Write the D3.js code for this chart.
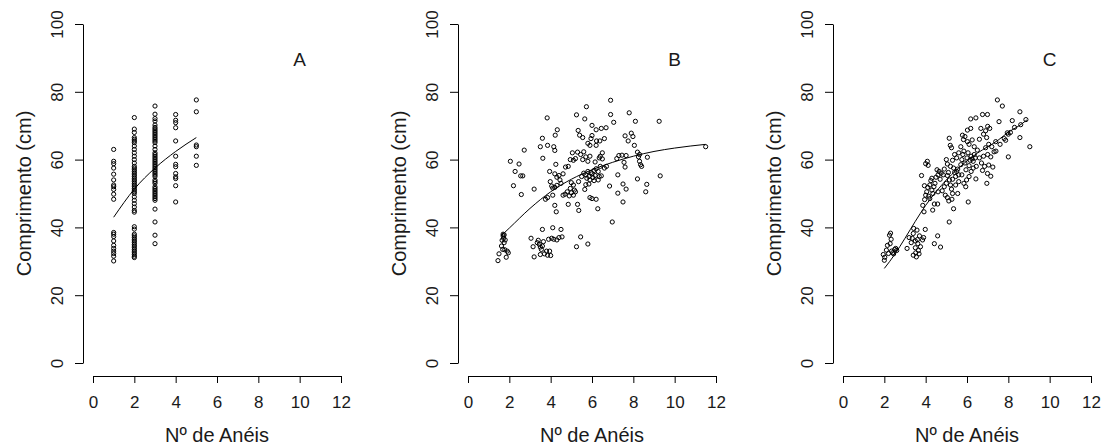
<!DOCTYPE html>
<html>
<head>
<meta charset="utf-8">
<script src="https://cdn.jsdelivr.net/npm/d3@7"></script>
<style>
  body { margin: 0; background: #fff; }
  text { font-family: "Liberation Sans", Arial, sans-serif; fill: #1a1a1a; }
</style>
</head>
<body>
<svg id="chart" width="1102" height="448"></svg>
<script>
// tick values and labels
const ringTicks = [0, 2, 4, 6, 8, 10, 12];
const lengthTicks = [0, 20, 40, 60, 80, 100];
const panelLabels = ["A", "B", "C"];
const xTitle = "Nº de Anéis";
const yTitle = "Comprimento (cm)";

// panel A: [rings, length]
const pointsA = [
  [1,63],[1,59.5],[1,58.8],[1,57.5],[1,55.7],[1,54],[1,52.5],[1,52],[1,51.2],[1,49.8],[1,48.3],
  [1,38.5],[1,38],[1,37.3],[1,36],[1,34.7],[1,33.8],[1,33],[1,32.3],[1,31.5],[1,30.1],
  [2,72.4],[2,69],[2,68],[2,66.5],[2,66],[2,65.5],[2,65],[2,64],[2,63],[2,62],[2,61],[2,60],
  [2,59],[2,58],[2,57.5],[2,57],[2,56.5],[2,56],[2,55.5],[2,55],[2,54.5],[2,54],[2,53.5],[2,53],
  [2,52.5],[2,52],[2,51.5],[2,51],[2,50.5],[2,50],[2,49],[2,48],[2,47],[2,46],[2,45],[2,44.5],
  [2,40.2],[2,39.5],[2,38],[2,37.5],[2,37],[2,36.5],[2,36],[2,35.5],[2,35],[2,34.5],[2,34],
  [2,33.5],[2,33],[2,32.5],[2,32],[2,31.5],[2,31.1],
  [3,75.8],[3,73.4],[3,72.1],[3,71.4],[3,70.2],[3,69.5],[3,69],[3,68.5],[3,68],[3,67.5],[3,67],
  [3,66.5],[3,66],[3,65.5],[3,65],[3,64],[3,63],[3,62],[3,61.5],[3,61],[3,60.5],[3,60],[3,59.5],
  [3,59],[3,58.5],[3,58],[3,57.5],[3,57],[3,56.5],[3,56],[3,55.5],[3,55],[3,54],[3,53.5],[3,53],
  [3,52],[3,51.5],[3,51],[3,50.5],[3,50],[3,49.5],[3,49],[3,48.5],[3,48],[3,45.4],[3,41.6],
  [3,37.7],[3,35.2],
  [4,73.3],[4,71.6],[4,70.9],[4,69.4],[4,65.5],[4,61],[4,58.6],[4,57.9],[4,55.9],[4,54.9],
  [4,54.4],[4,52.3],[4,47.5],
  [5,77.6],[5,74.1],[5,64.3],[5,63.8],[5,61],[5,58.3]
];

// panel B
const pointsB = [
  [1.45,30.2],[1.5,32.2],[1.62,34.5],[1.65,36.2],[1.7,37.5],[1.7,38],[1.72,36.8],[1.75,35.5],
  [1.78,33.4],[1.8,36.3],[1.85,31.2],[1.9,33],[1.95,32.5],[1.75,37.8],[1.68,33.5],
  [3.05,36.8],[3.15,34.3],[3.2,31.3],[3.35,35.5],[3.4,36.2],[3.45,35],[3.5,34.2],[3.55,33.5],
  [3.6,39.4],[3.65,35.8],[3.7,32.2],[3.8,33],[3.85,31.8],[3.9,36.5],[3.95,33],[4.0,31.7],
  [4.05,36.8],[4.1,39.9],[4.15,36.5],[4.3,36.3],[4.4,37],[4.5,39.4],[4.55,37.2],[3.5,32],[3.6,34.5],
  [5.25,34.3],[5.45,37.2],[5.8,35.1],[6.98,41.6],
  [2.05,59.5],[2.2,52.3],[2.28,56.5],[2.47,58.7],[2.55,55.2],[2.65,55.2],[2.58,49.7],[2.72,62.8],[3.2,51.3],
  [3.5,63.8],[3.6,66.3],[3.62,60.4],[3.83,72.3],[3.85,64.2],[3.95,56.5],[3.98,53.5],[4.05,52.2],
  [3.85,48.8],[3.75,48.3],[4.1,49.5],[4.15,63.8],[4.2,62.7],[4.22,67.2],[4.32,68.8],[4.25,58.6],
  [4.2,55.8],[4.3,54.8],[4.4,55.3],[4.45,54],[4.2,46.5],[4.27,44.6],[4.1,51.6],[4.2,51.8],
  [4.3,52.4],[4.5,53],[4.6,55.8],[4.72,57.8],[4.85,58],[4.95,60],[4.6,49.5],[4.7,49.8],[4.8,50.5],
  [4.9,49.3],[4.95,51.5],[5.0,50.2],[5.1,49.5],[5.15,51],[5.2,50.5],[4.85,46.8],[5.3,46.8],
  [5.36,45],[5.0,53.2],[5.1,52.5],[5.35,53.5],
  [5.05,62],[5.2,60.3],[5.1,59.8],[5.3,62.2],[5.45,61.5],[5.55,60],[5.6,62.3],[5.7,60.8],
  [5.8,59.5],[5.9,61],[5.25,73.2],[5.33,68.6],[5.4,67.2],[5.55,66.5],[5.65,72],[5.73,75.6],
  [5.8,64.8],[5.9,64.2],[6.0,67.1],[6.0,70.1],[5.95,66.2],[6.2,68.8],[6.22,65.5],[6.38,65.5],
  [6.2,64.2],[6.45,69.2],[6.68,69.4],[6.6,66.2],[6.9,77.5],[6.9,73.3],[7.05,71],
  [5.5,55],[5.6,56],[5.7,55.5],[5.75,54.5],[5.8,56.5],[5.85,55],[5.9,54],[5.95,56.2],[6.0,55.8],
  [6.05,54.7],[6.1,56.8],[6.15,55.3],[6.2,57.3],[6.3,56.5],[6.35,55],[6.4,58],[6.1,53.8],
  [5.7,52.6],[5.85,52.8],[5.65,51.2],[5.9,48.8],[6.0,48.5],[6.2,48.3],[6.15,59.3],[6.4,61],
  [6.5,62],[6.6,57.5],[6.7,58],[6.3,54],[6.45,55.2],[6.28,45.5],[6.35,60.5],[6.5,60.2],
  [6.85,52.2],[7.2,60.3],[7.3,61.2],[7.25,55.5],[7.25,50.1],[7.5,52.8],[7.65,51.3],[7.5,47.5],
  [7.45,61.3],[7.55,59.2],[7.6,57.8],[7.65,61.2],[7.6,67],[7.75,65.5],[7.8,73.8],[7.9,67.8],
  [7.98,66.8],[8.05,64.2],[8.1,71.3],[8.2,62.2],[8.25,60.8],[8.3,59.5],[8.35,58.5],[8.4,58],
  [8.3,61.5],[8.2,54.3],[8.68,60.7],[8.65,52.7],[8.6,50.5],[9.25,71.3],[9.3,55.2],[11.5,63.8]
];

// panel C
const pointsC = [
  [1.95,32],[2.0,30.3],[2.02,31.2],[2.1,33.3],[2.15,34.7],[2.2,32.3],[2.25,37.7],[2.3,38.3],
  [2.33,36.5],[2.35,33],[2.4,32.5],[2.45,32.2],[2.5,33.5],[2.55,33.8],[2.6,33.2],[2.28,35.2],
  [3.1,33.8],[3.2,37],[3.3,35.5],[3.35,36.8],[3.4,38.2],[3.42,39.7],[3.5,34],[3.52,32.5],
  [3.55,31.3],[3.58,39.2],[3.6,36.4],[3.62,35.2],[3.65,33.2],[3.68,32.2],[3.7,37.5],[3.75,34.3],
  [3.85,36.3],[3.9,37],[3.98,39.4],[3.4,31.8],[3.5,36],[4.42,35.2],[4.58,37.5],[4.72,34.2],
  [3.8,55.3],[3.94,52.3],[4.0,58.8],[4.08,59.5],[4.12,58.3],[3.86,46.5],[3.92,44.6],[3.95,48.2],
  [4.0,49.5],[4.05,50.5],[4.1,51.8],[4.15,49.2],[4.2,52.5],[4.25,53.8],[4.3,51],[4.35,50],
  [4.4,52],[4.45,53],[4.34,45.1],[4.42,46.9],[4.58,46.9],[4.55,57],[4.6,55.5],[4.65,56.5],
  [4.5,54.8],[4.7,54.2],[4.75,56],[4.3,54.5],[4.2,48.5],[4.6,50.5],
  [4.8,50.8],[4.9,52],[4.95,49.5],[5.0,53],[5.05,55.3],[5.1,56.2],[5.15,54],[5.2,52.5],
  [5.25,51.3],[5.3,50],[5.05,48.8],[5.12,47.8],[5.35,45.5],[5.27,48.3],[5.14,41.6],[5.14,66.3],
  [5.19,64.2],[5.25,63.5],[5.0,60],[5.05,58.7],[5.2,58],[5.3,59.8],[5.35,57.5],[5.4,56.2],
  [5.45,55],[5.5,56.5],[5.55,57.2],[5.6,55.5],[5.45,52.5],[5.55,50],[5.5,60.5],[5.6,62],
  [5.4,61.5],[5.3,54.2],[4.9,57.2],[4.85,55.5],[5.6,53.5],
  [5.7,63.8],[5.78,67.2],[5.83,65.9],[5.9,66.8],[6.02,68.7],[6.02,65.3],[6.1,64.5],[6.18,69.2],
  [6.18,72],[6.43,72.3],[5.7,58.5],[5.75,60],[5.8,61.5],[5.85,62.5],[5.9,59],[5.95,57],[6.0,60.5],
  [6.05,62],[6.1,58.2],[6.15,59.8],[6.2,61],[6.25,60.2],[6.3,59.5],[6.35,61.5],[6.4,60.5],
  [6.45,58],[5.94,52],[5.98,54],[6.06,47.5],[6.1,55],[6.2,56.5],[6.3,57.5],[6.43,54.3],
  [6.5,62.8],[6.35,63.8],[6.25,65.8],[5.85,53],[5.75,55.5],
  [6.6,66],[6.67,69.2],[6.75,73.3],[6.99,73.3],[6.8,67.5],[6.9,68.5],[7.0,69.8],[6.95,66.5],
  [7.1,69.2],[6.6,60.5],[6.7,59],[6.8,61],[6.85,58],[6.9,63.5],[7.0,61.5],[7.05,58.4],
  [7.15,60.8],[7.2,63.8],[7.31,62.3],[7.39,65.3],[6.96,53],[7.15,55.1],[6.99,55.9],[6.75,56.8],
  [7.25,57.8],[7.47,77.6],[7.71,75.8],[7.55,71.2],[8.19,71.5],[8.56,74.1],[7.95,67.9],
  [7.87,65.7],[8.56,66.5],[9.04,63.8],[8.0,60.8],[7.6,64.5],[7.8,66.2],[8.0,67.5],[8.1,68],
  [8.3,69.5],[8.6,70.3],[8.85,71.8],[7.4,62.5],[7.05,64.5]
];

// fitted growth curves
const fitA = [[1,43],[2,51.3],[3,57.5],[4,62.4],[5,66.5]];
const fitB = [[1.6,37.5],[2,39.8],[3,45.6],[4,50.5],[5,54.2],[6,57],[7,59.2],[8,61],
              [9,62.4],[10,63.4],[11.5,64.5]];
const fitC = [[2.0,27.9],[2.5,32],[3,36.8],[3.5,41.8],[4,46.5],[4.5,50.5],[5,54],[5.5,57],
              [6,59.6],[6.5,61.9],[7,63.8],[7.5,65.7],[8,68.1],[8.5,69.9],[8.9,71.7]];

const panels = [
  {label: panelLabels[0], points: pointsA, fit: fitA},
  {label: panelLabels[1], points: pointsB, fit: fitB},
  {label: panelLabels[2], points: pointsC, fit: fitC}
];

const svg = d3.select("#chart");
svg.append("rect").attr("width", 1102).attr("height", 448).attr("fill", "#fff");

// each panel: y axis line at 83 + 375*i
panels.forEach((p, i) => {
    let axisX = 83 + 375 * i;
    let g = svg.append("g");

    let x = d3.scaleLinear().domain([0, 12]).range([axisX + 10, axisX + 258]);
    let y = d3.scaleLinear().domain([0, 100]).range([363, 24]);

    // y axis with rotated labels
    let ya = g.append("g")
        .attr("transform", `translate(${axisX},0)`)
        .call(d3.axisLeft(y).tickValues(lengthTicks).tickSize(8).tickSizeOuter(0));
    ya.selectAll("text")
        .attr("x", null).attr("dy", "0.35em")
        .attr("transform", "translate(-26,0) rotate(-90)")
        .attr("text-anchor", "middle")
        .style("font-size", "17px");

    // x axis
    let xa = g.append("g")
        .attr("transform", "translate(0,376)")
        .call(d3.axisBottom(x).tickValues(ringTicks).tickSize(7).tickSizeOuter(0));
    xa.selectAll("text")
        .attr("y", 26).attr("dy", "0.35em")
        .style("font-size", "17px");

    g.selectAll(".domain, .tick line").attr("stroke", "#000");
    g.selectAll(".tick text").attr("fill", "#1a1a1a").attr("font-family", null);

    // titles
    g.append("text")
        .attr("x", (x.range()[0] + x.range()[1]) / 2).attr("y", 435)
        .attr("dy", "0.35em").attr("text-anchor", "middle")
        .style("font-size", "20px")
        .text(xTitle);
    g.append("text")
        .attr("transform", `translate(${axisX - 59},${(y.range()[0] + y.range()[1]) / 2}) rotate(-90)`)
        .attr("dy", "0.35em").attr("text-anchor", "middle")
        .style("font-size", "20px")
        .text(yTitle);

    // panel letter
    g.append("text")
        .attr("x", x(10)).attr("y", y(89.5))
        .attr("dy", "0.35em").attr("text-anchor", "middle")
        .style("font-size", "19px")
        .text(p.label);

    // points
    g.append("g").selectAll("circle")
        .data(p.points)
        .enter().append("circle")
        .attr("cx", d => x(d[0]))
        .attr("cy", d => y(d[1]))
        .attr("r", 2.1)
        .attr("fill", "none")
        .attr("stroke", "#000")
        .attr("stroke-width", 1);

    // fitted curve
    let line = d3.line()
        .x(d => x(d[0]))
        .y(d => y(d[1]))
        .curve(d3.curveMonotoneX);
    g.append("path")
        .datum(p.fit)
        .attr("d", line)
        .attr("fill", "none")
        .attr("stroke", "#000")
        .attr("stroke-width", 1);
});
</script>
</body>
</html>
